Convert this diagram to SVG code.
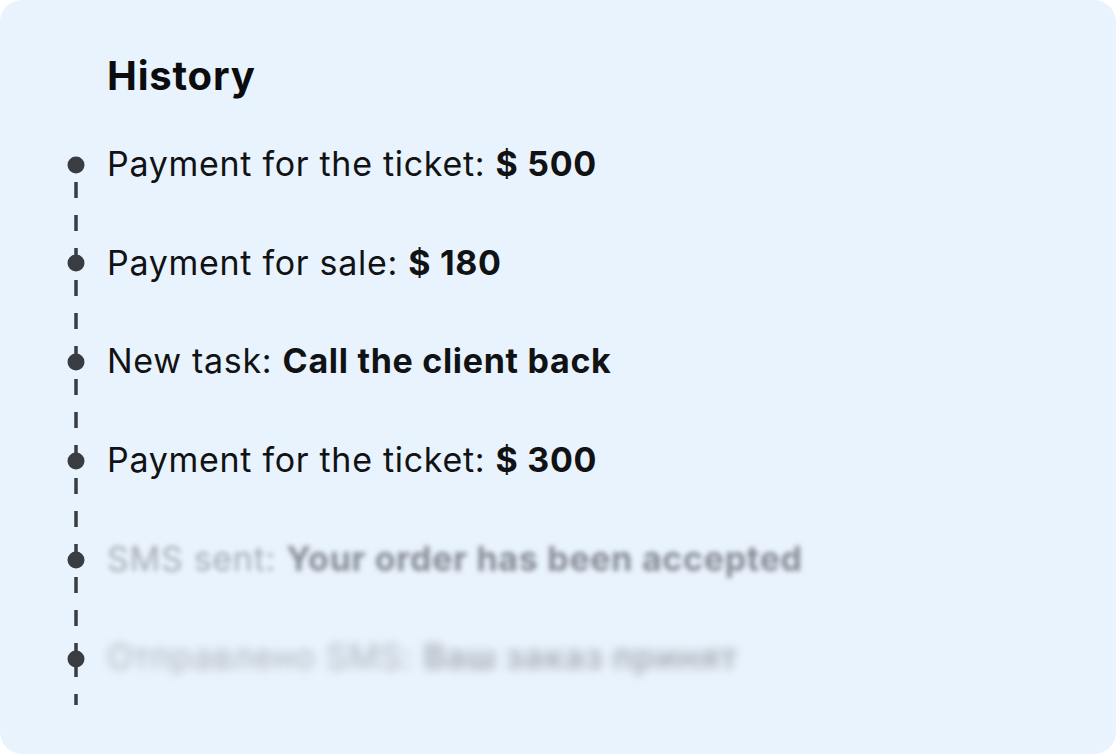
<svg xmlns="http://www.w3.org/2000/svg" width="1116" height="754" viewBox="0 0 1116 754">
<defs>
<style>
.t{font-family:Inter,"Noto Sans",sans-serif;font-size:34px;letter-spacing:0.7px;fill:#111214}
.b{font-weight:700}
.h{font-family:Inter,"Noto Sans",sans-serif;font-size:40px;letter-spacing:0.8px;font-weight:700;fill:#0b0c0e}
.dot{fill:#393c41}
.seg{stroke:#393c41;stroke-width:3.5;stroke-dasharray:16 17}
.solid{stroke:#393c41;stroke-width:3.5}
</style>
<filter id="blur1" x="-5%" y="-50%" width="110%" height="200%"><feGaussianBlur stdDeviation="2.6"/></filter>
<filter id="blur2" x="-5%" y="-80%" width="110%" height="260%"><feGaussianBlur stdDeviation="5"/></filter>
</defs>
<rect width="1116" height="754" fill="#ffffff"/>
<rect x="0" y="0" width="1116" height="754" rx="22" fill="#e9f3fd"/>
<g id="connectors">
<line class="seg" x1="76" y1="182" x2="76" y2="264"/>
<line class="seg" x1="76" y1="280" x2="76" y2="362"/>
<line class="seg" x1="76" y1="379" x2="76" y2="461"/>
<line class="seg" x1="76" y1="478" x2="76" y2="560"/>
<line class="seg" x1="76" y1="577" x2="76" y2="659"/>
<line class="solid" x1="76" y1="659" x2="76" y2="677"/>
<line class="solid" x1="76" y1="694" x2="76" y2="705"/>
</g>
<g id="title"><text class="h" x="107" y="90">History</text></g>
<g id="n1"><circle class="dot" cx="76" cy="165" r="8.5"/><text class="t" x="107" y="176">Payment for the ticket: <tspan class="b">$ 500</tspan></text></g>
<g id="n2"><circle class="dot" cx="76" cy="263" r="8.5"/><text class="t" x="107" y="275">Payment for sale: <tspan class="b">$ 180</tspan></text></g>
<g id="n3"><circle class="dot" cx="76" cy="362" r="8.5"/><text class="t" x="107" y="373">New task: <tspan class="b">Call the client back</tspan></text></g>
<g id="n4"><circle class="dot" cx="76" cy="461" r="8.5"/><text class="t" x="107" y="472">Payment for the ticket: <tspan class="b">$ 300</tspan></text></g>
<g id="n5"><circle class="dot" cx="76" cy="560" r="8.5"/><text class="t" x="107" y="571" filter="url(#blur1)" style="fill:#a6abb2">SMS sent: <tspan class="b" style="fill:#858a92">Your order has been accepted</tspan></text></g>
<g id="n6"><circle class="dot" cx="76" cy="659" r="8.5"/><text class="t" x="107" y="669" filter="url(#blur2)" style="fill:#aeb3ba">Отправлено SMS: <tspan class="b">Ваш заказ принят</tspan></text></g>
</svg>
